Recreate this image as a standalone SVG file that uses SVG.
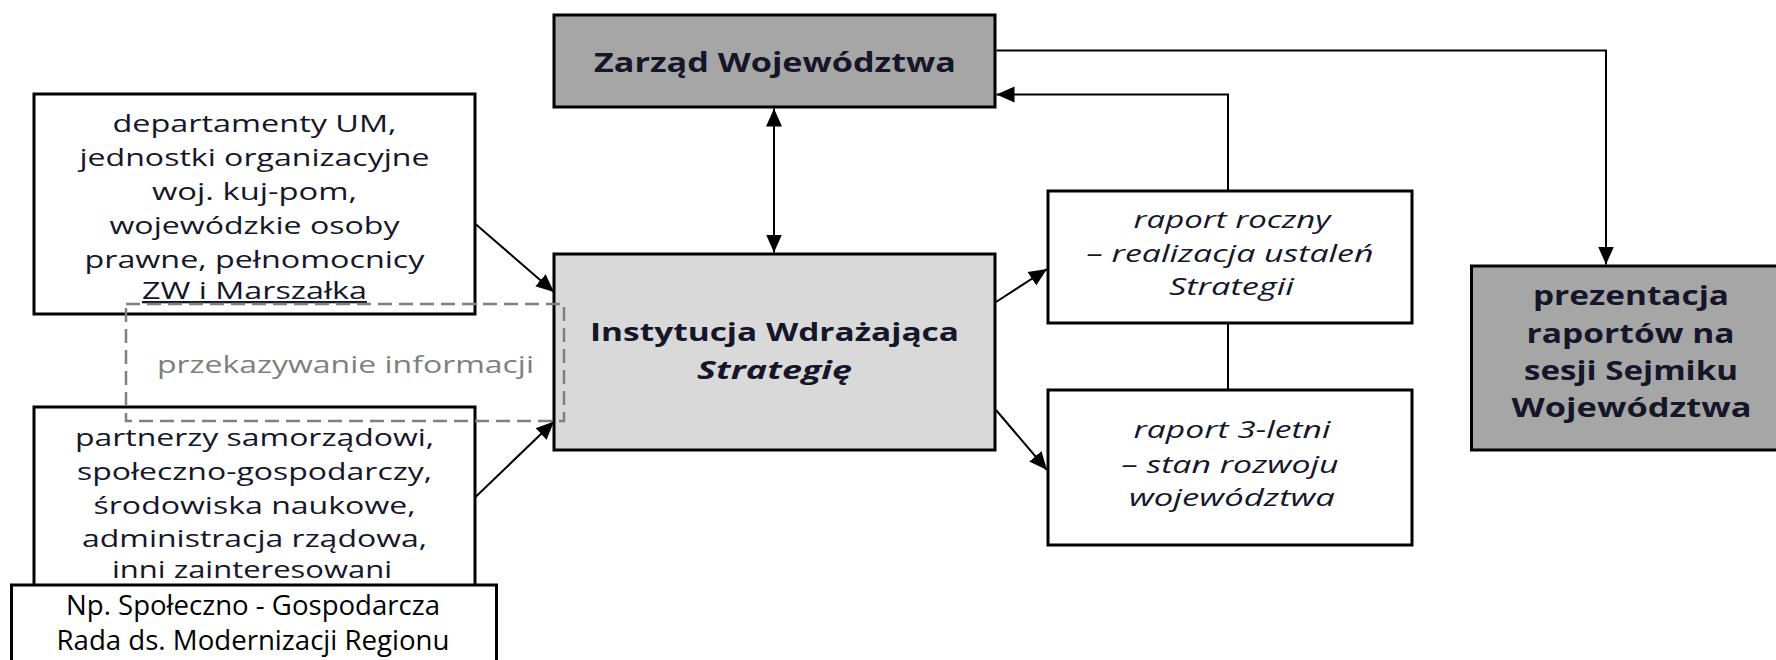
<svg xmlns="http://www.w3.org/2000/svg" width="1776" height="660" viewBox="0 0 1776 660">
<defs>
<marker id="arr" markerUnits="userSpaceOnUse" markerWidth="20" markerHeight="18" refX="18" refY="8" orient="auto-start-reverse" viewBox="0 0 20 16">
<path d="M0,0 L18,8 L0,16 z" fill="#000"/>
</marker>
<style>
.box{stroke:#000;stroke-width:3}
.white{fill:#fff}
.dark{fill:#a6a6a6}
.light{fill:#d9d9d9}
.t{font-family:"Open Sans","Liberation Sans",sans-serif;text-anchor:middle;fill:#16162a}
.reg{font-size:23px}
.b{font-weight:bold}
.it{font-style:italic;font-size:23.5px}
.np{font-size:28px;fill:#000}
.gray{fill:#7f7f7f;font-size:23px}
.con{fill:none;stroke:#000;stroke-width:2}
.dash{fill:none;stroke:#808080;stroke-width:2.5;stroke-dasharray:14 7}
</style>
</defs>
<rect width="1776" height="660" fill="#fff"/>

<g id="zarzad">
<rect class="box dark" x="554" y="15" width="441" height="92"/>
<text class="t b" font-size="26" x="775" y="72" textLength="362" lengthAdjust="spacingAndGlyphs">Zarząd Województwa</text>
</g>

<g id="instytucja">
<rect class="box light" x="554" y="254" width="441" height="196"/>
<text class="t b" font-size="25" x="774.5" y="341" textLength="369" lengthAdjust="spacingAndGlyphs">Instytucja Wdrażająca</text>
<text class="t b" font-size="25" font-style="italic" x="774.5" y="379" textLength="155" lengthAdjust="spacingAndGlyphs">Strategię</text>
</g>

<g id="departamenty">
<rect class="box white" x="34" y="94" width="441" height="220"/>
<text class="t reg" x="254.5" y="132" textLength="284" lengthAdjust="spacingAndGlyphs">departamenty UM,</text>
<text class="t reg" x="254.5" y="166" textLength="350" lengthAdjust="spacingAndGlyphs">jednostki organizacyjne</text>
<text class="t reg" x="254.5" y="200" textLength="205" lengthAdjust="spacingAndGlyphs">woj. kuj-pom,</text>
<text class="t reg" x="254.5" y="233.5" textLength="290" lengthAdjust="spacingAndGlyphs">wojewódzkie osoby</text>
<text class="t reg" x="254.5" y="268" textLength="340" lengthAdjust="spacingAndGlyphs">prawne, pełnomocnicy</text>
<text class="t reg" x="254.5" y="299" textLength="225" lengthAdjust="spacingAndGlyphs" text-decoration="underline">ZW i Marszałka</text>
</g>

<g id="partnerzy">
<rect class="box white" x="34" y="407" width="441" height="200"/>
<text class="t reg" x="254.5" y="445.5" textLength="359" lengthAdjust="spacingAndGlyphs">partnerzy samorządowi,</text>
<text class="t reg" x="254.5" y="480" textLength="355" lengthAdjust="spacingAndGlyphs">społeczno-gospodarczy,</text>
<text class="t reg" x="254.5" y="513.5" textLength="322" lengthAdjust="spacingAndGlyphs">środowiska naukowe,</text>
<text class="t reg" x="254.5" y="547" textLength="345" lengthAdjust="spacingAndGlyphs">administracja rządowa,</text>
<text class="t reg" x="252" y="578" textLength="280" lengthAdjust="spacingAndGlyphs">inni zainteresowani</text>
</g>

<g id="rada">
<rect class="box white" x="11.5" y="585" width="485" height="90"/>
<text class="t np" x="253" y="615" textLength="374" lengthAdjust="spacingAndGlyphs">Np. Społeczno - Gospodarcza</text>
<text class="t np" x="253" y="650" textLength="393" lengthAdjust="spacingAndGlyphs">Rada ds. Modernizacji Regionu</text>
</g>

<g id="przekazywanie">
<rect class="dash" x="126" y="304" width="438" height="117"/>
<text class="t gray" x="345.5" y="373" textLength="377" lengthAdjust="spacingAndGlyphs">przekazywanie informacji</text>
</g>

<g id="raport-roczny">
<rect class="box white" x="1048" y="191" width="364" height="132"/>
<text class="t it" x="1232" y="228" textLength="197" lengthAdjust="spacingAndGlyphs">raport roczny</text>
<text class="t it" x="1230" y="261.7" textLength="287" lengthAdjust="spacingAndGlyphs">– realizacja ustaleń</text>
<text class="t it" x="1231.5" y="295" textLength="125" lengthAdjust="spacingAndGlyphs">Strategii</text>
</g>

<g id="raport-3-letni">
<rect class="box white" x="1048" y="390" width="364" height="155"/>
<text class="t it" x="1232" y="438" textLength="197" lengthAdjust="spacingAndGlyphs">raport 3-letni</text>
<text class="t it" x="1230" y="473" textLength="217" lengthAdjust="spacingAndGlyphs">– stan rozwoju</text>
<text class="t it" x="1232" y="505.7" textLength="206" lengthAdjust="spacingAndGlyphs">województwa</text>
</g>

<g id="prezentacja">
<rect class="box dark" x="1471.5" y="266" width="310" height="184"/>
<text class="t b" font-size="27" x="1631" y="305" textLength="196" lengthAdjust="spacingAndGlyphs">prezentacja</text>
<text class="t b" font-size="27" x="1630.5" y="342.5" textLength="208" lengthAdjust="spacingAndGlyphs">raportów na</text>
<text class="t b" font-size="27" x="1631" y="380" textLength="214" lengthAdjust="spacingAndGlyphs">sesji Sejmiku</text>
<text class="t b" font-size="27" x="1631.5" y="417" textLength="240" lengthAdjust="spacingAndGlyphs">Województwa</text>
</g>

<g id="connectors">
<line class="con" x1="774" y1="108.5" x2="774" y2="252.5" marker-start="url(#arr)" marker-end="url(#arr)"/>
<line class="con" x1="475.5" y1="224" x2="554" y2="292" marker-end="url(#arr)"/>
<line class="con" x1="475.5" y1="497" x2="554" y2="421.5" marker-end="url(#arr)"/>
<line class="con" x1="996" y1="302" x2="1047" y2="269" marker-end="url(#arr)"/>
<line class="con" x1="996" y1="410" x2="1047" y2="470" marker-end="url(#arr)"/>
<line class="con" x1="1228" y1="323" x2="1228" y2="390"/>
<polyline class="con" points="1228,191 1228,94.5 996.5,94.5" marker-end="url(#arr)"/>
<polyline class="con" points="996.5,50.5 1606,50.5 1606,264.5" marker-end="url(#arr)"/>
</g>
</svg>
